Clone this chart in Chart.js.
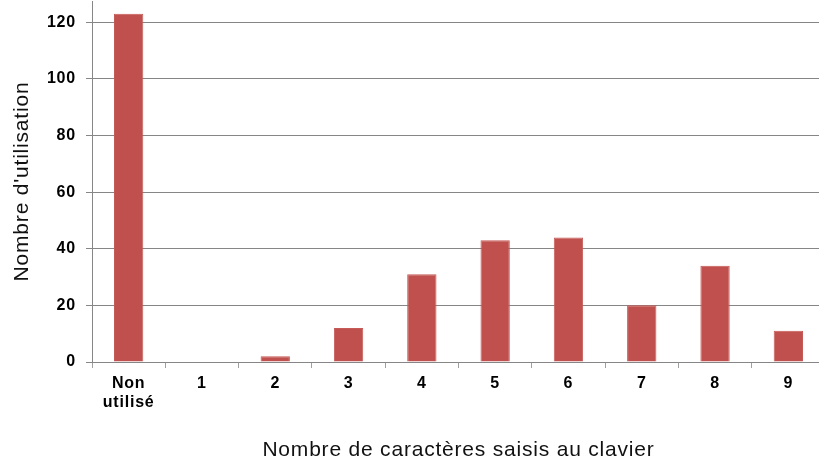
<!DOCTYPE html>
<html>
<head>
<meta charset="utf-8">
<script src="https://cdn.jsdelivr.net/npm/chart.js@4"></script>
<style>
  html, body { margin: 0; padding: 0; background: #fff; overflow: hidden; }
</style>
</head>
<body>
<canvas id="usageChart" width="827" height="463"></canvas>
<script>
// categories (number of characters typed) and usage counts
const categories = [['Non', 'utilisé'], '1', '2', '3', '4', '5', '6', '7', '8', '9'];
const usageCounts = [123, 0, 2, 12, 31, 43, 44, 20, 34, 11];
const yTickValues = [0, 20, 40, 60, 80, 100, 120];

const FONT = "'Liberation Sans', Arial, sans-serif";
const GRID = '#868686';

// the reference text is a bit wider than normal, widen it a little
const spacingPlugin = {
    id: 'spacing',
    beforeUpdate(chart) { chart.ctx.letterSpacing = '0.8px'; },
    beforeDraw(chart) { chart.ctx.letterSpacing = '0.8px'; }
};

const ctx = document.getElementById('usageChart').getContext('2d');

const usageChart = new Chart(ctx, {
    type: 'bar',
    data: {
        labels: categories,
        datasets: [{
            label: "Nombre d'utilisation",
            data: usageCounts,
            backgroundColor: '#BF504D',
            borderColor: '#C65A57',
            borderWidth: 1,
            barPercentage: 0.4,
            categoryPercentage: 1
        }]
    },
    options: {
        responsive: false,
        devicePixelRatio: 1,
        animation: false,
        layout: { padding: { top: 1, right: 2, left: 0, bottom: 0 } },
        plugins: {
            legend: { display: false },
            tooltip: { enabled: false }
        },
        scales: {
            x: {
                grid: {
                    offset: true,
                    drawOnChartArea: false,
                    drawTicks: true,
                    tickLength: 6,
                    color: '#a0a0a0'
                },
                border: { color: GRID },
                ticks: {
                    color: '#000',
                    padding: 6,
                    maxRotation: 0,
                    font: { family: FONT, size: 16, weight: 'bold', lineHeight: 1.2 }
                },
                title: {
                    display: true,
                    text: 'Nombre de caractères saisis au clavier',
                    color: '#111',
                    padding: { top: 0, bottom: 0 },
                    font: { family: FONT, size: 21, lineHeight: 1.2 }
                },
                afterFit(scale) {
                    scale.height = 101;
                    scale.paddingLeft = 0;
                    scale.paddingRight = 0;
                }
            },
            y: {
                min: 0,
                max: 127.5,
                grid: {
                    color: GRID,
                    lineWidth: 1,
                    tickLength: 6
                },
                border: { color: GRID },
                ticks: {
                    stepSize: 20,
                    color: '#000',
                    padding: 10,
                    font: { family: FONT, size: 16, weight: 'bold' }
                },
                afterBuildTicks(scale) {
                    scale.ticks = yTickValues.map(v => ({ value: v }));
                },
                title: {
                    display: true,
                    text: "Nombre d'utilisation",
                    color: '#111',
                    padding: { top: 10, bottom: 0 },
                    font: { family: FONT, size: 21, lineHeight: 1.2 }
                },
                afterFit(scale) {
                    scale.width = 92;
                    scale.paddingTop = 0;
                    scale.paddingBottom = 0;
                }
            }
        }
    },
    plugins: [spacingPlugin]
});
</script>
</body>
</html>
